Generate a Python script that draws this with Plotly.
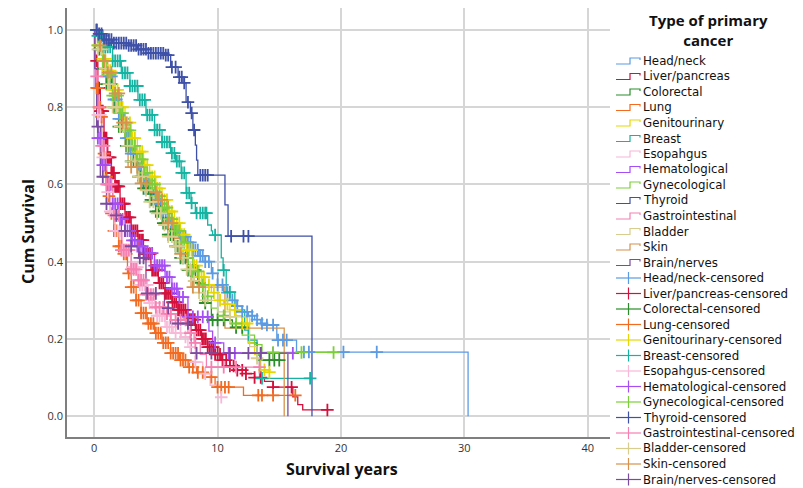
import numpy as np
import plotly.graph_objects as go

# ---------------- data ----------------
names = ["Head/neck", "Liver/pancreas", "Colorectal", "Lung", "Genitourinary", "Breast",
         "Esopahgus", "Hematological", "Gynecological", "Thyroid", "Gastrointestinal",
         "Bladder", "Skin", "Brain/nerves"]

colors = ["#5b9be3", "#d4103c", "#2a8c2a", "#f26b21", "#e6d700", "#15b3a2",
          "#f8b8d8", "#a64ef5", "#7ccf3a", "#3e50a8", "#f680b2",
          "#d8cd8e", "#d8924c", "#7a4b9e"]

headneck_t = [0, 0.3, 0.7, 1, 1.5, 2, 2.5, 3, 3.5, 4, 4.5, 5, 5.5, 6, 6.5, 7, 7.5, 8, 8.5, 9, 9.5, 10,
              10.5, 11, 11.5, 12, 12.5, 13, 13.5, 14, 14.8, 16.4, 30.3]
headneck_s = [1, 0.96, 0.92, 0.88, 0.82, 0.77, 0.72, 0.68, 0.645, 0.61, 0.575, 0.55, 0.525, 0.50, 0.48,
              0.465, 0.45, 0.43, 0.415, 0.40, 0.37, 0.34, 0.32, 0.30, 0.285, 0.27, 0.26, 0.25, 0.24,
              0.236, 0.197, 0.166, 0.0]
headneck_c = [0.2, 0.4, 0.6, 0.8, 1.0, 1.2, 1.4, 1.6, 1.8, 2.0, 2.2, 2.4, 2.6, 2.8, 3.0, 3.2, 3.4,
              3.6, 3.8, 4.0, 4.2, 4.4, 4.6, 4.8, 5.0, 5.2, 5.4, 5.6, 5.8, 6.0, 6.2, 6.4, 6.6, 6.8,
              7.0, 7.2, 7.4, 7.6, 7.8, 8.0, 8.2, 8.4, 8.6, 8.8, 9.0, 9.3, 9.6, 10.0, 10.4, 10.8,
              11.2, 11.6, 12.0, 12.4, 12.8, 13.2, 13.6, 14.0, 14.5, 14.9, 15.3, 15.6, 17.0, 17.4,
              20.2, 22.9]

liver_t = [0, 0.1, 0.3, 0.5, 0.8, 1.1, 1.4, 1.7, 2.1, 2.5, 3, 3.55, 4, 4.6, 5.2, 5.75, 6.3, 6.8, 7.5,
           8.2, 8.7, 9.2, 9.7, 10.3, 11, 11.6, 12.3, 13, 13.8, 14.5, 16.1, 16.5, 16.9, 18.9]
liver_s = [1, 0.92, 0.85, 0.79, 0.72, 0.67, 0.63, 0.595, 0.55, 0.515, 0.48, 0.456, 0.42, 0.378,
           0.345, 0.318, 0.295, 0.275, 0.25, 0.223, 0.2, 0.179, 0.16, 0.145, 0.13, 0.119, 0.11,
           0.10, 0.09, 0.075, 0.05, 0.03, 0.016, 0.016]
liver_c = [0.2, 0.3, 0.4, 0.5, 0.6, 0.7, 0.8, 0.9, 1.0, 1.1, 1.2, 1.3, 1.4, 1.5, 1.6, 1.7, 1.8, 1.9,
           2.0, 2.15, 2.3, 2.45, 2.6, 2.75, 2.9, 3.05, 3.2, 3.35, 3.5, 3.65, 3.8, 3.95, 4.1, 4.25,
           4.4, 4.55, 4.7, 4.85, 5.0, 5.15, 5.3, 5.45, 5.6, 5.75, 5.9, 6.05, 6.2, 6.35, 6.5, 6.65,
           6.8, 6.95, 7.1, 7.25, 7.4, 7.55, 7.7, 7.85, 8.0, 8.15, 8.3, 8.45, 8.6, 8.75, 8.9, 9.05,
           9.2, 9.35, 9.5, 9.65, 9.8, 10.0, 10.2, 10.4, 10.7, 11.0, 11.3, 11.6, 12.0, 12.3, 13.0,
           13.5, 14.5, 16.0, 18.9]

colorectal_t = [0, 0.3, 0.7, 1, 1.5, 2, 2.5, 3, 3.5, 4, 4.5, 5, 5.5, 6, 6.5, 7, 7.6, 8.4, 8.8, 9.5,
                11.2, 12.5, 13.2, 15.0]
colorectal_s = [1, 0.95, 0.9, 0.86, 0.80, 0.75, 0.70, 0.66, 0.62, 0.59, 0.56, 0.53, 0.50, 0.47,
                0.44, 0.41, 0.378, 0.345, 0.293, 0.249, 0.23, 0.19, 0.145, 0.145]
colorectal_c = [0.2, 0.4, 0.6, 0.8, 1.0, 1.2, 1.4, 1.6, 1.8, 2.0, 2.2, 2.4, 2.6, 2.8, 3.0, 3.2, 3.4,
                3.6, 3.8, 4.0, 4.2, 4.4, 4.6, 4.8, 5.0, 5.2, 5.4, 5.6, 5.8, 6.0, 6.2, 6.4, 6.6, 6.8,
                7.0, 7.2, 7.4, 7.6, 7.8, 8.0, 8.2, 8.5, 9.0, 9.6, 10.0, 10.5, 11.5, 12.0, 14.2,
                14.6, 15.0]

lung_t = [0, 0.1, 0.2, 0.35, 0.55, 0.75, 0.9, 1.1, 1.3, 1.6, 2.0, 2.3, 2.7, 3.0, 3.4, 3.8, 4.3, 4.9,
          5.5, 6.2, 6.9, 7.6, 8.3, 9.0, 9.8, 12.1, 16.3]
lung_s = [1, 0.9, 0.85, 0.8, 0.775, 0.68, 0.62, 0.57, 0.525, 0.48, 0.44, 0.42, 0.37, 0.334, 0.30,
          0.267, 0.24, 0.215, 0.19, 0.163, 0.145, 0.127, 0.113, 0.101, 0.075, 0.054, 0.054]
lung_c = [0.2, 0.3, 0.4, 0.5, 0.6, 0.8, 1.0, 1.2, 1.4, 1.6, 1.8, 2.0, 2.2, 2.4, 2.6, 2.8, 3.0, 3.2,
          3.4, 3.6, 3.8, 4.0, 4.2, 4.4, 4.6, 4.8, 5.0, 5.2, 5.4, 5.6, 5.8, 6.0, 6.2, 6.4, 6.6, 6.8,
          7.0, 7.2, 7.4, 7.7, 8.0, 8.4, 8.8, 9.5, 10.0, 10.3, 10.6, 10.9, 13.3, 13.6, 14.5, 16.3]

genito_t = [0, 0.3, 0.7, 1, 1.5, 2, 2.5, 3, 3.5, 4, 4.5, 5, 5.5, 6, 6.5, 7, 7.5, 8, 8.5, 9, 9.5, 10,
            10.5, 11, 11.5, 12, 12.5, 13, 13.5, 14.2]
genito_s = [1, 0.96, 0.925, 0.895, 0.845, 0.80, 0.76, 0.72, 0.685, 0.65, 0.62, 0.59, 0.56, 0.53,
            0.50, 0.47, 0.43, 0.39, 0.36, 0.34, 0.32, 0.30, 0.29, 0.275, 0.26, 0.24, 0.19, 0.16,
            0.12, 0.114]
genito_c = [0.3, 0.5, 0.7, 0.9, 1.1, 1.3, 1.5, 1.7, 1.9, 2.1, 2.3, 2.5, 2.7, 2.9, 3.1, 3.3, 3.5, 3.7,
            3.9, 4.1, 4.3, 4.5, 4.7, 4.9, 5.1, 5.3, 5.5, 5.7, 5.9, 6.1, 6.3, 6.5, 6.7, 6.9, 7.1, 7.3,
            7.5, 7.7, 7.9, 8.1, 8.3, 8.5, 8.7, 8.9, 9.3, 9.7, 10.2, 10.8, 11.4, 12.0, 12.4, 13.8,
            14.2]

breast_t = [0, 0.3, 0.9, 1.5, 2.2, 2.9, 3.55, 4.2, 4.9, 5.5, 6.2, 6.6, 7.05, 7.45, 7.85, 8.2, 9.2,
            9.5, 9.6, 10.3, 10.45, 10.7, 11.4, 12.2, 12.5, 13.2, 13.4, 17.5]
breast_s = [1, 0.985, 0.956, 0.92, 0.889, 0.855, 0.819, 0.78, 0.741, 0.71, 0.681, 0.66, 0.63, 0.578,
            0.552, 0.526, 0.495, 0.48, 0.469, 0.41, 0.378, 0.321, 0.275, 0.223, 0.197, 0.158,
            0.098, 0.098]
breast_c = [0.3, 0.5, 0.7, 0.9, 1.1, 1.3, 1.5, 1.7, 1.9, 2.1, 2.3, 2.5, 2.7, 2.9, 3.1, 3.3, 3.5, 3.7,
            3.9, 4.1, 4.3, 4.5, 4.7, 4.9, 5.1, 5.3, 5.5, 5.7, 5.9, 6.1, 6.3, 6.5, 6.7, 6.9, 7.1, 7.3,
            7.5, 7.7, 7.9, 8.3, 8.6, 8.8, 9.0, 9.1, 9.8, 10.5, 11.0, 13.6, 17.5]

eso_t = [0, 0.1, 0.3, 0.6, 1, 1.3, 1.7, 2.3, 3, 3.7, 4.4, 5, 5.75, 6.4, 7.05, 7.6, 8.2, 8.8, 9.4, 10.3]
eso_s = [1, 0.88, 0.78, 0.67, 0.58, 0.53, 0.48, 0.43, 0.386, 0.34, 0.293, 0.26, 0.231, 0.215, 0.205,
         0.179, 0.14, 0.11, 0.08, 0.049]
eso_c = [0.3, 0.5, 0.7, 0.9, 1.1, 1.3, 1.5, 1.7, 1.9, 2.1, 2.3, 2.5, 2.7, 2.9, 3.1, 3.3, 3.5, 3.7,
         3.9, 4.1, 4.3, 4.5, 4.7, 4.9, 5.1, 5.3, 5.5, 5.7, 5.9, 6.1, 6.3, 6.6, 7.0, 7.4, 7.8, 8.2,
         9.0, 10.3]

hema_t = [0, 0.1, 0.3, 0.6, 1, 1.5, 2, 2.5, 3, 3.5, 4.1, 4.9, 5.75, 6.3, 6.8, 7.6, 9.3, 9.6, 10.5, 16.1]
hema_s = [1, 0.85, 0.72, 0.65, 0.6, 0.55, 0.51, 0.48, 0.455, 0.44, 0.422, 0.39, 0.36, 0.33, 0.308,
          0.257, 0.22, 0.19, 0.163, 0.163]
hema_c = [0.3, 0.5, 0.7, 0.9, 1.1, 1.3, 1.5, 1.7, 1.9, 2.1, 2.3, 2.5, 2.7, 2.9, 3.1, 3.3, 3.5, 3.7,
          3.9, 4.1, 4.3, 4.5, 4.7, 4.9, 5.1, 5.3, 5.5, 5.7, 5.9, 6.1, 6.3, 6.5, 6.7, 6.9, 7.2, 7.6,
          8.0, 8.4, 8.8, 9.2, 9.8, 10.9, 11.4, 13.5, 14.5, 16.1]

gyn_t = [0, 0.3, 0.7, 1, 1.5, 2, 2.5, 3, 3.5, 4, 4.5, 5, 5.5, 6, 6.5, 7, 7.5, 8, 8.5, 9, 9.5, 10, 11,
         12, 13, 13.6, 19.4]
gyn_s = [1, 0.96, 0.92, 0.885, 0.83, 0.785, 0.74, 0.70, 0.665, 0.63, 0.60, 0.57, 0.54, 0.51, 0.48,
         0.45, 0.41, 0.375, 0.34, 0.31, 0.28, 0.26, 0.24, 0.21, 0.185, 0.165, 0.165]
gyn_c = [0.3, 0.5, 0.7, 0.9, 1.1, 1.3, 1.5, 1.7, 1.9, 2.1, 2.3, 2.5, 2.7, 2.9, 3.1, 3.3, 3.5, 3.7,
         3.9, 4.1, 4.3, 4.5, 4.7, 4.9, 5.1, 5.3, 5.5, 5.7, 5.9, 6.1, 6.3, 6.5, 6.7, 6.9, 7.1, 7.3,
         7.6, 8.0, 8.4, 8.8, 9.2, 10.5, 11.5, 14.5, 16.8, 19.4]

thyroid_t = [0, 0.3, 0.8, 1.5, 2.8, 3.5, 4.4, 5.7, 6.2, 6.8, 7.2, 7.45, 7.8, 8.0, 8.2, 8.3, 8.4,
             10.6, 10.85, 17.65]
thyroid_s = [1, 0.99, 0.975, 0.966, 0.96, 0.95, 0.94, 0.935, 0.904, 0.878, 0.863, 0.813, 0.785,
             0.741, 0.702, 0.663, 0.624, 0.547, 0.466, 0.0]
thyroid_c = [0.2, 0.4, 0.6, 0.8, 1.0, 1.2, 1.4, 1.6, 1.8, 2.0, 2.2, 2.4, 2.6, 2.8, 3.0, 3.2, 3.4,
             3.6, 3.8, 4.0, 4.2, 4.4, 4.6, 4.8, 5.0, 5.2, 5.4, 5.6, 5.8, 6.0, 6.3, 6.6, 6.9, 7.1,
             7.3, 7.6, 7.9, 8.1, 8.6, 8.8, 9.0, 9.2, 11.1, 12.1, 12.5]

gi_t = [0, 0.1, 0.3, 0.6, 1, 1.5, 2.2, 3, 3.55, 4.2, 4.9, 5.7, 6.6, 7.6, 8.1, 8.6, 9.1, 13.4]
gi_s = [1, 0.88, 0.8, 0.7, 0.6, 0.52, 0.43, 0.38, 0.352, 0.315, 0.282, 0.265, 0.249, 0.215, 0.19,
        0.16, 0.127, 0.127]
gi_c = [0.2, 0.4, 0.6, 0.8, 1.0, 1.2, 1.4, 1.6, 1.8, 2.0, 2.2, 2.4, 2.6, 2.8, 3.0, 3.2, 3.4, 3.6,
        3.8, 4.0, 4.2, 4.4, 4.6, 4.8, 5.0, 5.3, 5.6, 5.9, 6.2, 6.6, 7.0, 7.4, 7.8, 8.2, 9.5, 10.5,
        11.5, 13.4]

bladder_t = [0, 0.3, 0.7, 1, 1.5, 2, 2.5, 3, 3.5, 4, 4.5, 5, 5.5, 6, 6.5, 7, 7.5, 8, 8.5, 9, 10, 11,
             12.6, 13.2]
bladder_s = [1, 0.95, 0.9, 0.86, 0.80, 0.75, 0.70, 0.66, 0.62, 0.585, 0.555, 0.525, 0.495, 0.465,
             0.44, 0.41, 0.38, 0.35, 0.32, 0.30, 0.27, 0.257, 0.18, 0.15]
bladder_c = [0.3, 0.6, 0.9, 1.2, 1.5, 1.8, 2.1, 2.4, 2.7, 3.0, 3.3, 3.6, 3.9, 4.2, 4.5, 4.8, 5.1,
             5.4, 5.7, 6.0, 6.3, 6.6, 6.9, 7.2, 7.5, 7.8, 8.1, 8.5, 9.0, 11.0, 13.2]

skin_t = [0, 0.3, 0.7, 1.1, 1.7, 2.2, 2.75, 3.7, 4.5, 5.2, 6, 6.5, 7, 7.5, 7.85, 10.6, 15.4]
skin_s = [1, 0.96, 0.92, 0.89, 0.836, 0.76, 0.645, 0.603, 0.58, 0.56, 0.50, 0.46, 0.42, 0.38,
          0.334, 0.228, 0.0]
skin_c = [0.5, 0.8, 1.1, 1.4, 1.7, 2.0, 2.3, 2.6, 3.0, 3.5, 3.8, 4.2, 5.0, 5.2, 5.5, 6.0, 6.3, 7.0,
          8.0, 8.5]

brain_t = [0, 0.05, 0.2, 0.5, 1, 1.5, 2.2, 3, 3.6, 4.2, 5.7, 6.2, 7.85, 15.7]
brain_s = [1, 0.9, 0.75, 0.62, 0.55, 0.52, 0.48, 0.44, 0.41, 0.318, 0.28, 0.24, 0.163, 0.0]
brain_c = [0.3, 0.7, 1.0, 1.8, 2.5, 3.0, 3.7, 4.0, 4.3, 5.0, 6.0, 6.8, 7.6, 8.3, 9.5, 11.0, 12.5,
           13.5]

times = [headneck_t, liver_t, colorectal_t, lung_t, genito_t, breast_t, eso_t, hema_t, gyn_t,
         thyroid_t, gi_t, bladder_t, skin_t, brain_t]
survs = [headneck_s, liver_s, colorectal_s, lung_s, genito_s, breast_s, eso_s, hema_s, gyn_s,
         thyroid_s, gi_s, bladder_s, skin_s, brain_s]
cens = [headneck_c, liver_c, colorectal_c, lung_c, genito_c, breast_c, eso_c, hema_c, gyn_c,
        thyroid_c, gi_c, bladder_c, skin_c, brain_c]

x_ticks = [0, 10, 20, 30, 40]
y_ticks = [0.0, 0.2, 0.4, 0.6, 0.8, 1.0]

# ---------------- layout geometry (pixels) ----------------
W, H = 803, 488
L, R, T, B = 67, 193, 8, 51
PW, PH = W - L - R, H - T - B


def px(x):
    return (x - L) / PW


def py(y):
    return (H - B - y) / PH


fig = go.Figure()

# survival curves (step functions)
for nm, col, t, s in zip(names, colors, times, survs):
    fig.add_trace(go.Scatter(x=t, y=s, mode="lines", line=dict(color=col, width=1.3, shape="hv"),
                             name=nm, showlegend=False, hoverinfo="skip"))

# censor marks, placed on the step curve
for nm, col, t, s, c in zip(names, colors, times, survs, cens):
    ta = np.array(t)
    sa = np.array(s)
    ca = np.array(c)
    idx = np.searchsorted(ta, ca, side="right") - 1
    idx = np.clip(idx, 0, len(sa) - 1)
    fig.add_trace(go.Scatter(x=ca, y=sa[idx], mode="markers",
                             marker=dict(symbol="cross-thin", size=9,
                                         line=dict(color=col, width=1.8)),
                             name=nm + "-censored", showlegend=False, hoverinfo="skip"))

# ---------------- manual legend ----------------
shapes = []
annotations = []
FONT = "Open Sans, Liberation Sans, Arial, sans-serif"
LFONT = "DejaVu Sans, Open Sans, sans-serif"
annotations.append(dict(x=px(708), y=py(30), xref="paper", yref="paper",
                        text="<b>Type of primary<br>cancer</b>", showarrow=False,
                        font=dict(family=FONT, size=15, color="#111"), align="center",
                        xanchor="center", yanchor="middle"))
y0 = 61
step = 15.5
labels = names + [n + "-censored" for n in names]
for i, lab in enumerate(labels):
    yc = y0 + step * i
    col = colors[i % 14]
    if i < 14:
        path = "M {} {} L {} {} L {} {} L {} {} L {} {}".format(
            px(616), py(yc + 3), px(630), py(yc + 3), px(630), py(yc - 3),
            px(640), py(yc - 3), px(640), py(yc - 1))
        shapes.append(dict(type="path", path=path, xref="paper", yref="paper",
                           line=dict(color=col, width=1.2)))
    else:
        shapes.append(dict(type="line", x0=px(616), x1=px(641), y0=py(yc), y1=py(yc),
                           xref="paper", yref="paper", line=dict(color=col, width=1.2)))
        shapes.append(dict(type="line", x0=px(628.5), x1=px(628.5), y0=py(yc - 6), y1=py(yc + 6),
                           xref="paper", yref="paper", line=dict(color=col, width=1.2)))
    annotations.append(dict(x=px(642), y=py(yc), xref="paper", yref="paper", text=lab,
                            showarrow=False, xanchor="left", yanchor="middle", borderpad=0,
                            font=dict(family=LFONT, size=11.8, color="#111")))

# axis titles
annotations.append(dict(x=px(28), y=py(232), xref="paper", yref="paper", text="<b>Cum Survival</b>",
                        showarrow=False, textangle=-90, xanchor="center", yanchor="middle",
                        font=dict(family=FONT, size=16, color="#111")))
annotations.append(dict(x=px(342), y=py(469), xref="paper", yref="paper",
                        text="<b>Survival years</b>", showarrow=False, xanchor="center",
                        yanchor="middle", font=dict(family=FONT, size=16, color="#111")))

fig.update_layout(
    width=W, height=H,
    margin=dict(l=L, r=R, t=T, b=B, pad=0),
    paper_bgcolor="white", plot_bgcolor="white",
    showlegend=False,
    shapes=shapes, annotations=annotations,
    font=dict(family=FONT, size=11, color="#333"),
)
fig.update_xaxes(range=[-2.2, 41.8], tickvals=x_ticks, ticktext=[str(v) for v in x_ticks],
                 showgrid=True, gridcolor="#d6d6d6", gridwidth=1.5, zeroline=False,
                 showline=True, linecolor="#7f7f7f", linewidth=1.5, ticks="",
                 tickfont=dict(size=11, color="#333"))
fig.update_yaxes(range=[-0.054, 1.057], tickvals=y_ticks, ticktext=["%.1f" % v for v in y_ticks],
                 showgrid=True, gridcolor="#d6d6d6", gridwidth=1.5, zeroline=False,
                 showline=True, linecolor="#7f7f7f", linewidth=1.5, ticks="",
                 tickfont=dict(size=11, color="#333"))

fig.write_html("out.html")
